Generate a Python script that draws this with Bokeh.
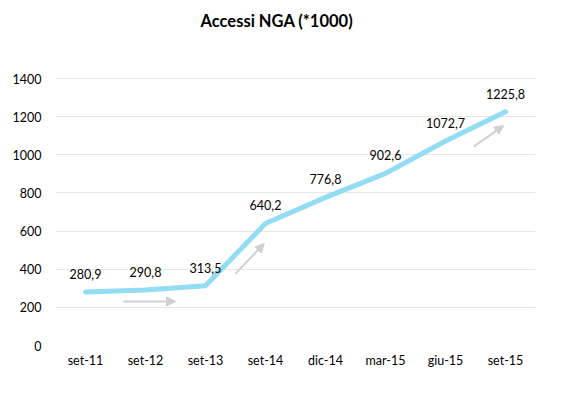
from bokeh.plotting import figure
from bokeh.models import ColumnDataSource, Range1d, FactorRange, Arrow, NormalHead
from bokeh.embed import file_html
from bokeh.resources import INLINE
from bokeh.core.properties import value

categories = ["set-11", "set-12", "set-13", "set-14", "dic-14", "mar-15", "giu-15", "set-15"]
values = [280.9, 290.8, 313.5, 640.2, 776.8, 902.6, 1072.7, 1225.8]
labels = ["280,9", "290,8", "313,5", "640,2", "776,8", "902,6", "1072,7", "1225,8"]
y_ticks = [0, 200, 400, 600, 800, 1000, 1200, 1400]

# trend arrows (x in category-slot units, y in data units)
arrows_x0 = [1.13, 3.0, 6.97]
arrows_x1 = [2.0, 3.48, 7.47]
arrows_y0 = [231, 377, 1043]
arrows_y1 = [231, 535, 1153]

FONT = "Lato"

# y range extends above the top gridline (invisible frame) to leave room under the title
p = figure(width=550, height=380, x_range=FactorRange(*categories), y_range=Range1d(0, 1652),
           output_backend="svg", toolbar_location=None,
           min_border_left=55, min_border_right=15, min_border_bottom=35, min_border_top=30)

p.title.text = "Accessi NGA (*1000)"
p.title.align = "left"
p.title.offset = 145
p.title.text_font = FONT
p.title.text_font_size = "16.5px"
p.title.text_font_style = "bold"
p.title.text_color = "#000000"
p.title.standoff = 0

src = ColumnDataSource(dict(x=categories, y=values, lab=labels))
p.line("x", "y", source=src, line_color="#92dcf4", line_width=5, line_join="round", line_cap="round")
p.text("x", "y", text="lab", source=src, text_align="center", text_baseline="middle",
       y_offset=-18, text_font=value(FONT), text_font_size="12.5px", text_color="#000000")

for xs, xe, ys, ye in zip(arrows_x0, arrows_x1, arrows_y0, arrows_y1):
    p.add_layout(Arrow(x_start=xs, y_start=ys, x_end=xe, y_end=ye,
                       line_color="#d0d0d0", line_width=2,
                       end=NormalHead(size=9, fill_color="#d0d0d0", line_color="#d0d0d0")))

p.yaxis.ticker = y_ticks
p.xaxis.axis_line_color = None
p.yaxis.axis_line_color = None
p.xaxis.major_tick_line_color = None
p.yaxis.major_tick_line_color = None
p.xaxis.minor_tick_line_color = None
p.yaxis.minor_tick_line_color = None
for ax in (p.xaxis, p.yaxis):
    ax.major_label_text_font = FONT
    ax.major_label_text_font_size = "12.5px"
    ax.major_label_text_color = "#000000"
p.yaxis.major_label_standoff = 8
p.xaxis.major_label_standoff = 1

p.xgrid.grid_line_color = None
p.ygrid.grid_line_color = "#e6e6e6"
p.ygrid.grid_line_width = 1
p.outline_line_color = None
p.x_range.range_padding = 0

p.background_fill_color = "white"
p.border_fill_color = "white"

open("out.html", "w").write(file_html(p, INLINE))
